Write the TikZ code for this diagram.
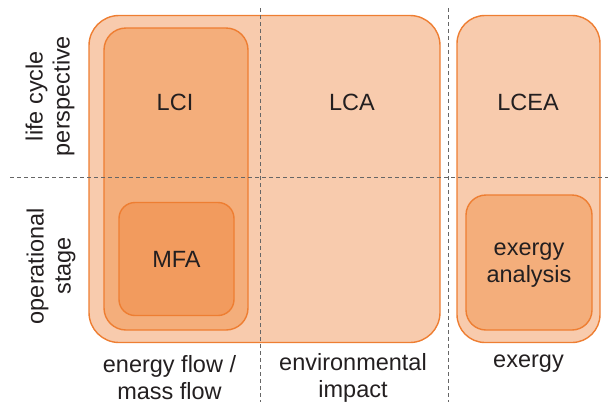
\documentclass[tikz,border=0pt]{standalone}
\usepackage{fontspec}
\setmainfont{Liberation Sans}
\usepackage{tikz}
\usetikzlibrary{positioning}
\definecolor{lightfill}{HTML}{F8CBAD}
\definecolor{midfill}{HTML}{F4AE7B}
\definecolor{darkfill}{HTML}{F29B5E}
\definecolor{edgeorange}{HTML}{EE7E32}
\definecolor{textgray}{HTML}{231F20}
\tikzset{
	box/.style={rectangle, draw=edgeorange, line width=1.4pt, inner sep=0pt}, % rounded method boxes
	label text/.style={text=textgray, font=\fontsize{23.5}{27}\selectfont, align=center}, %text in and around the boxes
	grid line/.style={draw=black!60, line width=1pt, dash pattern=on 4pt off 3pt}, %dashed separators
}
\begin{document}
\begin{tikzpicture}[x=1pt, y=-1pt]
			\useasboundingbox (0,0) rectangle (608,402);
			% boxes
			\node (lca) at (264.5,179) [box, fill=lightfill, rounded corners=30pt, minimum width=351pt, minimum height=327pt] {};
			\node (lci) at (176,179) [box, fill=midfill, rounded corners=22pt, minimum width=144pt, minimum height=302pt] {};
			\node (mfa) at (176.5,259) [box, fill=darkfill, rounded corners=16pt, minimum width=115pt, minimum height=113pt] {};
			\node (lcea) at (528.5,179) [box, fill=lightfill, rounded corners=28pt, minimum width=143pt, minimum height=327pt] {};
			\node (exa) at (529,262.5) [box, fill=midfill, rounded corners=20pt, minimum width=126pt, minimum height=135pt] {};
			% separators
			\draw [grid line] (260,8) -- (260,402);
			\draw [grid line] (448,8) -- (448,402);
			\draw [grid line] (10,177) -- (608,177);
			% texts in the boxes
			\node (lcitext) at (175,102.5) [label text] {LCI};
			\node (lcatext) at (352,102.5) [label text] {LCA};
			\node (lceatext) at (528,102.5) [label text] {LCEA};
			\node (mfatext) at (176.5,259) [label text] {MFA};
			\node (exatext) at (529,265) [label text] {exergy\\analysis};
			% row labels
			\node (lifecycle) at (50,96) [label text, rotate=90] {life cycle\\perspective};
			\node (operational) at (51,266) [label text, rotate=90] {operational\\stage};
			% column labels
			\node (energyflow) at (169.5,377.5) [label text] {energy flow /\\mass flow};
			\node (envimpact) at (353,377.5) [label text] {environmental\\impact};
			\node (exergy) at (528.5,364) [label text] {exergy};
		\end{tikzpicture}
\end{document}
